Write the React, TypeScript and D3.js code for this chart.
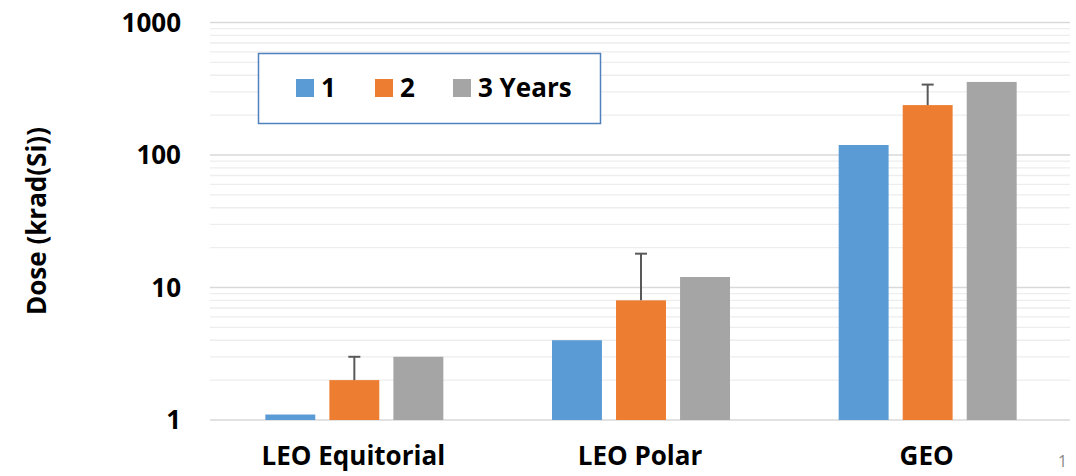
import * as d3 from "d3";

const orbits = ["LEO Equitorial", "LEO Polar", "GEO"];
const seriesNames = ["1", "2", "3 Years"];
const year1 = [1.1, 4, 119];
const year2 = [2, 8, 238];
const year3 = [3, 12, 356];
const year2ErrTop = [3, 18, 340];
const yTicks = [1, 10, 100, 1000];

const COLORS = ["#5B9BD5", "#ED7D31", "#A5A5A5"];
const WIDTH = 1076;
const HEIGHT = 476;
const M = { top: 22.5, right: 6, bottom: 56, left: 210 };
const FONT = "'Open Sans', 'Liberation Sans', sans-serif";
const FS = 26;

export default function App() {
  const innerH = HEIGHT - M.top - M.bottom;
  const x = d3.scaleBand().domain(orbits).range([M.left, WIDTH - M.right]);
  const y = d3.scaleLog().domain([1, 1000]).range([M.top + innerH, M.top]);
  const inner = d3.scaleBand().domain(seriesNames).range([0, 178]).paddingInner(0.22);

  const values = [year1, year2, year3];

  // minor grid lines 2..9 per decade
  const minor: number[] = [];
  for (const dec of [1, 10, 100]) for (let k = 2; k <= 9; k++) minor.push(dec * k);

  const legendX = [296, 375, 453];

  return (
    <svg width={WIDTH} height={HEIGHT} style={{ position: "absolute", left: 0, top: 0 }} fontFamily={FONT}>
      <rect width={WIDTH} height={HEIGHT} fill="#fff" />
      {minor.map((v) => (
        <line key={"m" + v} x1={M.left} x2={WIDTH - M.right} y1={y(v)} y2={y(v)} stroke="#EDEDED" strokeWidth={1.3} />
      ))}
      {yTicks.map((v) => (
        <g key={"t" + v}>
          <line x1={M.left} x2={WIDTH - M.right} y1={y(v)} y2={y(v)} stroke="#D9D9D9" strokeWidth={1.5} />
          <text x={181} y={y(v)} dy="0.36em" textAnchor="end" fontSize={FS} fontWeight="bold">{v}</text>
        </g>
      ))}
      {orbits.map((o, i) => {
        const gx = (x(o) as number) + x.bandwidth() / 2 - 88;
        return (
          <g key={o}>
            {seriesNames.map((s, j) => {
              const v = values[j][i];
              const bx = gx + (inner(s) as number);
              return (
                <rect key={s} x={bx} y={y(v)} width={inner.bandwidth()} height={y(1) - y(v)} fill={COLORS[j]} />
              );
            })}
            {(() => {
              const cx = gx + (inner("2") as number) + inner.bandwidth() / 2;
              return (
                <g stroke="#595959" strokeWidth={2}>
                  <line x1={cx} x2={cx} y1={y(year2[i])} y2={y(year2ErrTop[i])} />
                  <line x1={cx - 6} x2={cx + 6} y1={y(year2ErrTop[i])} y2={y(year2ErrTop[i])} />
                </g>
              );
            })()}
            <text x={(x(o) as number) + x.bandwidth() / 2} y={465} textAnchor="middle" fontSize={FS} fontWeight="bold">{o}</text>
          </g>
        );
      })}
      <text transform={`translate(46,221) rotate(-90)`} textAnchor="middle" fontSize={FS} fontWeight="bold">Dose (krad(Si))</text>
      <rect x={258.5} y={53.5} width={342} height={70} fill="#fff" stroke="#4F81BD" strokeWidth={1.5} />
      {seriesNames.map((s, j) => (
        <g key={"l" + s}>
          <rect x={legendX[j]} y={79} width={18} height={18} fill={COLORS[j]} />
          <text x={legendX[j] + 25} y={88} dy="0.36em" fontSize={FS} fontWeight="bold">{s}</text>
        </g>
      ))}
      <text x={1058} y={467} fontSize={16} fill="#888">1</text>
    </svg>
  );
}
